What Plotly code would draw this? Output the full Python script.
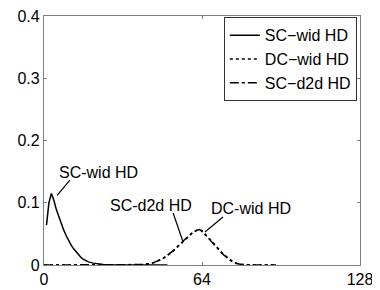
import plotly.graph_objects as go

# ---- data ----
sc_wid_x = [1, 2, 3, 4, 5, 6, 7, 8, 9, 10, 11, 12, 13, 14, 15, 16, 18, 20, 22, 24, 28, 32, 40, 50]
sc_wid_y = [0.064, 0.100, 0.115, 0.104, 0.089, 0.077, 0.066, 0.056, 0.047, 0.039, 0.032, 0.026,
            0.021, 0.016, 0.012, 0.009, 0.005, 0.003, 0.0015, 0.0008, 0.0003, 0.0001, 0.0, 0.0]

dc_wid_x = [0, 10, 20, 30, 36, 40, 44, 48, 52, 56, 58, 60, 62, 63, 64, 66, 68, 70, 72, 74, 76, 78, 80, 84, 88, 94]
dc_wid_y = [0.0, 0.0, 0.0, 0.0, 0.0002, 0.0006, 0.003, 0.010, 0.021, 0.036, 0.044, 0.051, 0.056, 0.057,
            0.055, 0.047, 0.038, 0.029, 0.020, 0.013, 0.007, 0.003, 0.001, 0.0002, 0.0, 0.0]

sc_d2d_x = [0, 10, 20, 30, 36, 40, 44, 48, 52, 56, 58, 60, 62, 63, 64, 66, 68, 70, 72, 74, 76, 78, 80, 84, 88, 94]
sc_d2d_y = [0.0, 0.0, 0.0, 0.0, 0.0002, 0.0007, 0.003, 0.010, 0.022, 0.037, 0.045, 0.052, 0.056, 0.057,
            0.054, 0.046, 0.037, 0.028, 0.019, 0.012, 0.006, 0.0025, 0.0008, 0.0001, 0.0, 0.0]

x_ticks = [0, 64, 128]
y_tick_step = 0.1
series_names = ["SC\u2212wid HD", "DC\u2212wid HD", "SC\u2212d2d HD"]

# annotation labels: (text, text_x, text_y, line_x0, line_y0, line_x1, line_y1)
labels = [
    ("SC-wid HD", 21.9, 0.1486, 10.5, 0.1365, 5.3, 0.112),
    ("SC-d2d HD", 43.5, 0.0948, 52.3, 0.0835, 56.2, 0.0386),
    ("DC-wid HD", 83.9, 0.090, 72.5, 0.0771, 65.2, 0.053),
]

FONT = "Liberation Sans, Arial, sans-serif"

fig = go.Figure()
fig.add_trace(go.Scatter(x=sc_wid_x, y=sc_wid_y, mode="lines", name=series_names[0],
                         line=dict(color="black", width=1.5, dash="solid")))
fig.add_trace(go.Scatter(x=dc_wid_x, y=dc_wid_y, mode="lines", name=series_names[1],
                         line=dict(color="black", width=1.5, dash="dot")))
fig.add_trace(go.Scatter(x=sc_d2d_x, y=sc_d2d_y, mode="lines", name=series_names[2],
                         line=dict(color="black", width=1.5, dash="dashdot")))

for text, tx, ty, x0, y0, x1, y1 in labels:
    fig.add_annotation(x=tx, y=ty, text=text, showarrow=False, xref="x", yref="y",
                       xanchor="center", yanchor="middle",
                       font=dict(family=FONT, size=16, color="black"))
    fig.add_shape(type="line", x0=x0, y0=y0, x1=x1, y1=y1, xref="x", yref="y",
                  line=dict(color="black", width=1.2))

axis_common = dict(showgrid=False, zeroline=False, showline=True, linecolor="#808080",
                   linewidth=1.2, mirror="ticks", ticks="inside", ticklen=3,
                   tickcolor="#808080", automargin=False, ticklabeloverflow="allow",
                   tickfont=dict(family=FONT, size=16, color="black"))

# the page body has an 8px margin, so the figure origin is at (8, 8)
fig.update_layout(
    width=380, height=290,
    margin=dict(l=36, r=28, t=8, b=33),
    plot_bgcolor="white", paper_bgcolor="white",
    xaxis=dict(range=[0, 128], tickmode="array", tickvals=x_ticks, **axis_common),
    yaxis=dict(range=[0, 0.4], tickmode="linear", tick0=0, dtick=y_tick_step, **axis_common),
    legend=dict(x=0.99, y=0.995, xanchor="right", yanchor="top",
                bgcolor="white", bordercolor="#333333", borderwidth=1,
                font=dict(family=FONT, size=16, color="black"),
                tracegroupgap=0, itemwidth=30),
    showlegend=True,
)

fig.write_html("out.html")
